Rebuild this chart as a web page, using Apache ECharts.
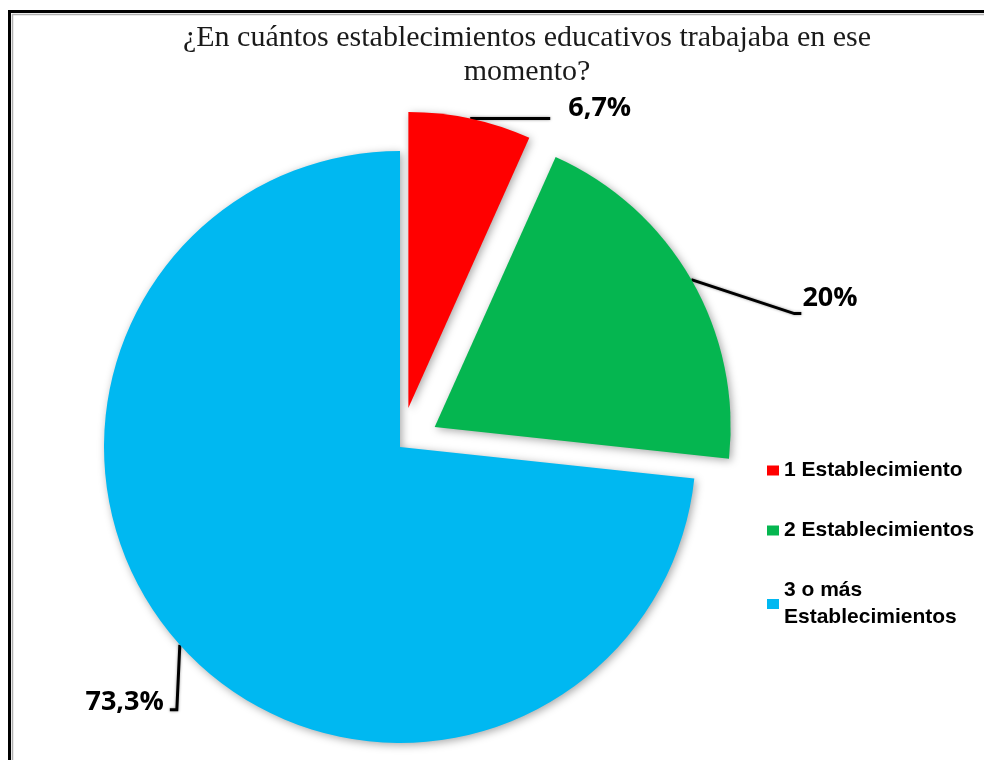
<!DOCTYPE html>
<html>
<head>
<meta charset="utf-8">
<script src="https://cdn.jsdelivr.net/npm/echarts@6/dist/echarts.min.js"></script>
<style>
  html, body { margin: 0; padding: 0; background: #fff; }
  #container { width: 984px; height: 760px; }
</style>
</head>
<body>
<div id="container"></div>
<script>
// data
let categories = ['1 Establecimiento', '2 Establecimientos', '3 o más\nEstablecimientos'];
let percents = [6.7, 20, 73.3];
let exploded = [true, true, false];
let colors = ['#FF0000', '#05B650', '#00B8F1'];

// label guide shapes, relative to the point where the line leaves the slice.
// exploded slices keep their default label spot, so it is steered with
// the default line lengths instead
let guides = [
    {line: [[80, 0]], length: 10, length2: 91},
    {line: [[103, 34], [110, 34]], length: -38, length2: 139},
    {line: [[-3, 65], [-10, 65]], label: [-16, 57], align: 'right'}
];

let pieData = categories.map((name, i) => {
    let item = {
        name: name,
        value: percents[i],
        selected: exploded[i],
        itemStyle: {color: colors[i]}
    };
    if (guides[i].length != null) {
        item.labelLine = {length: guides[i].length, length2: guides[i].length2};
    }
    return item;
});

let chart = echarts.init(document.getElementById('container'));

chart.setOption({
    animation: false,
    title: {
        text: '¿En cuántos establecimientos educativos trabajaba en ese\nmomento?',
        left: 522,
        top: 16,
        textAlign: 'center',
        textStyle: {
            fontFamily: 'Liberation Serif',
            fontWeight: 'normal',
            fontSize: 30,
            lineHeight: 34,
            color: '#1a1a1a'
        }
    },
    legend: {
        orient: 'vertical',
        left: 762,
        top: 452,
        icon: 'rect',
        itemWidth: 12,
        itemHeight: 10,
        itemGap: 33,
        selectedMode: false,
        textStyle: {
            fontFamily: 'Liberation Sans',
            fontWeight: 'bold',
            fontSize: 21,
            lineHeight: 27,
            color: '#000'
        },
        data: categories
    },
    graphic: [
        {type: 'rect', left: 7, top: 9, shape: {width: 1000, height: 800},
         style: {fill: null, stroke: '#000', lineWidth: 3}},
        {type: 'rect', left: 10, top: 12, shape: {width: 1000, height: 800},
         style: {fill: null, stroke: '#b0b0b0', lineWidth: 1.5}}
    ],
    series: [{
        type: 'pie',
        center: [400, 447],
        radius: 296,
        startAngle: 90,
        clockwise: true,
        avoidLabelOverlap: false,
        selectedMode: 'multiple',
        selectedOffset: 40,
        itemStyle: {
            shadowBlur: 8,
            shadowColor: 'rgba(0,0,0,0.35)',
            shadowOffsetX: 2,
            shadowOffsetY: 2
        },
        select: {itemStyle: {borderWidth: 0}},
        emphasis: {scale: false},
        label: {
            show: true,
            position: 'outside',
            formatter: (p) => String(p.value).replace('.', ',') + '%',
            fontFamily: 'Open Sans',
            fontWeight: 'bold',
            fontSize: 27,
            color: '#000'
        },
        labelLine: {
            show: true,
            length: 10,
            length2: 10,
            lineStyle: {
                color: '#000',
                width: 3,
                shadowBlur: 3,
                shadowColor: 'rgba(0,0,0,0.4)'
            }
        },
        labelLayout: (params) => {
            let g = guides[params.dataIndex];
            let pts = params.labelLinePoints;
            if (!pts) return {};
            let x0 = pts[0][0], y0 = pts[0][1];
            let out = {
                labelLinePoints: [[x0, y0]].concat(g.line.map((q) => [x0 + q[0], y0 + q[1]]))
            };
            if (g.label) {
                out.x = x0 + g.label[0];
                out.y = y0 + g.label[1];
                out.align = g.align;
                out.verticalAlign = 'middle';
            }
            return out;
        },
        data: pieData
    }]
});
</script>
</body>
</html>
